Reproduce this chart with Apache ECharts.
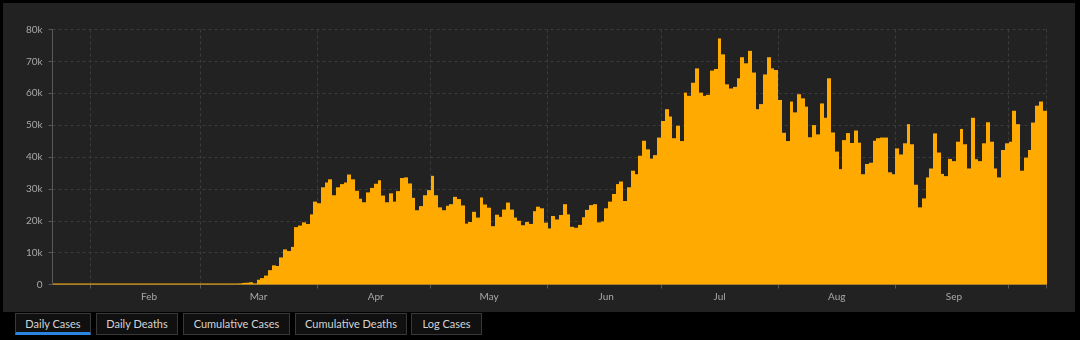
<!DOCTYPE html>
<html>
<head>
<meta charset="utf-8">
<script src="https://cdn.jsdelivr.net/npm/echarts@6/dist/echarts.min.js"></script>
<style>
html,body{margin:0;padding:0;background:#000;width:1080px;height:340px;overflow:hidden;font-family:Lato,"Noto Sans",sans-serif;}
#panel{position:absolute;left:3px;top:3px;width:1072px;height:309px;background:#222;}
#chart{position:absolute;left:0;top:0;width:1072px;height:309px;}
.tab{position:absolute;top:313px;height:22px;box-sizing:border-box;border:1px solid #383838;background:#101010;color:#d4d4d4;font-size:11px;line-height:19px;text-align:center;white-space:nowrap;}
.tab.active{border-bottom:3px solid #2a84e0;}
</style>
</head>
<body>
<div id="panel"><div id="chart"></div></div>
<div id="tabs"></div>
<script>
// ---- data (daily new cases, Jan 22 - Oct 10, 2020) ----
const monthNames = ['Jan','Feb','Mar','Apr','May','Jun','Jul','Aug','Sep','Oct'];
const yLabels = ['0','10k','20k','30k','40k','50k','60k','70k','80k'];
const tabLabels = ['Daily Cases','Daily Deaths','Cumulative Cases','Cumulative Deaths','Log Cases'];

const jan = [1, 1, 1, 1, 3, 1, 1, 1, 1, 2];
const feb = [1, 1, 3, 1, 1, 1, 1, 1, 1, 1, 1, 1, 1, 1, 1, 1, 1, 1, 1, 1, 2, 1, 1, 1, 5, 1, 1, 1, 2];
const mar = [20, 25, 25, 30, 70, 60, 300, 100, 150, 300, 350, 500, 550, 700, 350,
             1500, 2000, 2800, 4500, 6000, 5800, 8500, 11000, 10500, 11800, 18000, 18500, 19500, 19000, 22000, 26000];
const apr = [25500, 30500, 32000, 33000, 28000, 30500, 31500, 32000, 34500, 33000,
             29400, 26900, 25800, 28900, 30300, 31600, 32700, 27900, 25800, 28600,
             26000, 29300, 33400, 33600, 31700, 27200, 23300, 24600, 28000, 29600];
const may = [34100, 28000, 24200, 23300, 24700, 25200, 27500, 26800, 24800, 19100,
             19600, 22800, 21000, 27300, 25100, 24100, 18300, 21900, 21200, 23500,
             25700, 23500, 21000, 20000, 18600, 19600, 19000, 23000, 24400, 23900, 19400];
const jun = [17600, 21500, 20400, 21800, 25200, 22000, 18100, 17800, 18700, 21100,
             23400, 24900, 25200, 19500, 19800, 23900, 26000, 28400, 31500, 32300,
             26200, 30500, 35700, 34600, 40400, 45100, 42400, 39500, 40600, 46100];
const jul = [51300, 55000, 52700, 45900, 49800, 45000, 60200, 59200, 63300, 67800,
             60200, 59200, 59500, 67100, 67600, 77200, 72200, 62800, 61500, 62000,
             64700, 71300, 69400, 73300, 66500, 55000, 56600, 65900, 71300, 67800, 67300];
const aug = [57900, 47600, 45000, 57400, 54000, 59700, 58400, 55800, 46200, 50000,
             47100, 56800, 52300, 64700, 47700, 41700, 36200, 45300, 47500, 44400,
             48300, 44500, 34600, 37800, 38200, 45100, 45900, 46100, 46100, 35200, 34600];
const sep = [42700, 40800, 44300, 50300, 44000, 31300, 24200, 27000, 33600, 36400,
             47400, 41400, 34700, 34000, 39400, 38700, 44800, 48800, 44000, 36400,
             52300, 39300, 38700, 44300, 50900, 44800, 36400, 33600, 42200, 44300];
const oct = [44800, 54500, 50300, 35700, 39800, 42200, 50800, 56100, 57400, 54500];

const values = [].concat(jan, feb, mar, apr, may, jun, jul, aug, sep, oct);
const start = Date.UTC(2020, 0, 22);
const dates = values.map((_, i) => new Date(start + i * 86400000).toISOString().slice(0, 10));

// ---- tabs ----
const tabPos = [[15, 76], [96, 82], [183, 107], [295, 112], [411, 71]];
const tabsEl = document.getElementById('tabs');
tabLabels.forEach((t, i) => {
  const d = document.createElement('div');
  d.className = 'tab' + (i === 0 ? ' active' : '');
  d.style.left = tabPos[i][0] + 'px';
  d.style.width = tabPos[i][1] + 'px';
  d.textContent = t;
  tabsEl.appendChild(d);
});

// ---- chart ----
const chart = echarts.init(document.getElementById('chart'), null, {renderer: 'canvas'});
const axisColor = '#595959';
const gridColor = '#3c3c3c';
chart.setOption({
  backgroundColor: '#222222',
  animation: false,
  textStyle: {fontFamily: 'Lato, "Noto Sans", sans-serif'},
  grid: {left: 49.6, top: 26.5, width: 993.9, height: 255, containLabel: false, outerBoundsMode: 'none'},
  xAxis: {
    type: 'category',
    data: dates,
    boundaryGap: true,
    axisLine: {show: true, lineStyle: {color: axisColor, width: 1}},
    axisTick: {show: true, length: 4, lineStyle: {color: axisColor}, interval: (i, v) => v.slice(8) === '01'},
    axisLabel: {
      interval: (i, v) => v.slice(8) === '16',
      formatter: v => monthNames[parseInt(v.slice(5, 7), 10) - 1],
      color: '#a8a8a8', fontSize: 10, margin: 7
    },
    splitLine: {show: true, interval: (i, v) => v.slice(8) === '01', lineStyle: {color: gridColor, type: [3, 3], width: 1}}
  },
  yAxis: {
    type: 'value',
    min: 0, max: 80000, interval: 10000,
    axisLine: {show: true, lineStyle: {color: axisColor, width: 1}},
    axisTick: {show: true, length: 4, lineStyle: {color: axisColor}},
    axisLabel: {formatter: v => yLabels[Math.round(v / 10000)], color: '#a8a8a8', fontSize: 10, margin: 10},
    splitLine: {show: true, lineStyle: {color: gridColor, type: [3, 3], width: 1}}
  },
  series: [{
    type: 'custom',
    silent: true,
    data: values.map((v, i) => [i, v]),
    encode: {x: 0, y: 1},
    renderItem: function (params, api) {
      const idx = api.value(0);
      const top = api.coord([idx, api.value(1)]);
      const base = api.coord([idx, 0]);
      const w = api.size([1, 0])[0];
      const x0 = Math.round(top[0] - w / 2);
      const x1 = Math.round(top[0] + w / 2);
      const h = Math.max(base[1] - top[1], 1);
      return {
        type: 'rect',
        shape: {x: x0, y: base[1] - h, width: x1 - x0, height: h},
        style: {fill: '#ffaa00'}
      };
    }
  }]
});
</script>
</body>
</html>
